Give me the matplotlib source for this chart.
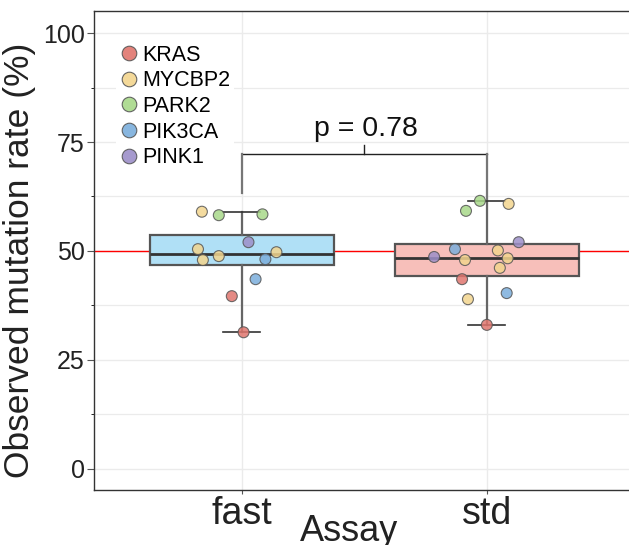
import numpy as np
import matplotlib
matplotlib.use("Agg")
import matplotlib.pyplot as plt
from matplotlib.lines import Line2D

plt.rcParams['font.family'] = ['Liberation Sans', 'DejaVu Sans']

# data
assays = ['fast', 'std']
genes = ['KRAS', 'MYCBP2', 'PARK2', 'PIK3CA', 'PINK1']
gene_colors = ['#E0766E', '#F3D58E', '#A8D98A', '#7BAEDC', '#9D8FC9']
box_colors = ['#B0E0F6', '#F7BFBA']

fast_gene = ['MYCBP2', 'PARK2', 'PARK2', 'PINK1', 'MYCBP2', 'MYCBP2',
             'MYCBP2', 'MYCBP2', 'PIK3CA', 'PIK3CA', 'KRAS', 'KRAS']
fast_rate = [59.0, 58.2, 58.4, 52.0, 50.4, 48.8, 47.9, 49.7, 48.1, 43.5, 39.6, 31.3]
fast_jit = [-0.162, -0.093, 0.085, 0.028, -0.178, -0.093, -0.158, 0.142,
            0.097, 0.057, -0.040, 0.008]

std_gene = ['PARK2', 'MYCBP2', 'PARK2', 'PINK1', 'PIK3CA', 'MYCBP2', 'PINK1',
            'MYCBP2', 'MYCBP2', 'MYCBP2', 'KRAS', 'PIK3CA', 'MYCBP2', 'KRAS']
std_rate = [61.5, 60.8, 59.2, 52.0, 50.4, 50.1, 48.6, 48.3, 47.9, 46.1,
            43.5, 40.3, 38.9, 33.0]
std_jit = [-0.028, 0.089, -0.085, 0.130, -0.130, 0.045, -0.215, 0.085,
           -0.089, 0.053, -0.101, 0.081, -0.077, 0.0]

p_text = 'p = 0.78'
bracket_y = 72.3
bracket_legs = [63.3, 62.0]

fig = plt.figure(figsize=(6.29, 5.45), dpi=100)
ax = fig.add_axes([0.1502, 0.1004, 0.8577, 0.8785])

ax.axhline(50, color='red', lw=1.0, zorder=1)

bp = ax.boxplot([fast_rate, std_rate], positions=[1, 2], widths=0.75,
                whis=(0, 100), patch_artist=True, showfliers=False,
                zorder=2)
for patch, c in zip(bp['boxes'], box_colors):
    patch.set_facecolor(c)
    patch.set_edgecolor('#555555')
    patch.set_linewidth(1.6)
for w in bp['whiskers']:
    w.set_color('#666666')
    w.set_linewidth(1.6)
for cap in bp['caps']:
    cap.set_color('#333333')
    cap.set_linewidth(1.2)
    xd = cap.get_xdata()
    mid = (xd[0] + xd[1]) / 2
    cap.set_xdata([mid - 0.075, mid + 0.075])
for m in bp['medians']:
    m.set_color('#333333')
    m.set_linewidth(2.0)

for pos, gl, rates, jit in [(1, fast_gene, fast_rate, fast_jit),
                            (2, std_gene, std_rate, std_jit)]:
    cols = [gene_colors[genes.index(g)] for g in gl]
    ax.scatter(pos + np.array(jit), rates, s=62, c=cols, edgecolors='#555555',
               linewidths=0.8, alpha=0.85, zorder=4)

ax.set_xlim(0.4, 2.6)
ax.set_ylim(-5, 105)
ax.set_yticks([0, 25, 50, 75, 100])
ax.set_yticks([12.5, 37.5, 62.5, 87.5], minor=True)
ax.set_xticks([1, 2])
ax.set_xticklabels(assays)
ax.grid(True, which='major', color='#EBEBEB', lw=1.0, zorder=0)
ax.grid(True, which='minor', axis='y', color='#EBEBEB', lw=0.9, zorder=0)
ax.set_axisbelow(True)

# significance bracket
ax.plot([1, 2], [bracket_y, bracket_y], color='#222222', lw=1.0, zorder=3)
ax.plot([1.5, 1.5], [bracket_y, bracket_y + 2.0], color='#222222', lw=1.0, zorder=3)
ax.plot([1, 1], [bracket_legs[0], bracket_y], color='#777777', lw=1.6, zorder=3)
ax.plot([2, 2], [bracket_legs[1], bracket_y], color='#777777', lw=1.6, zorder=3)
ax.text(1.505, bracket_y + 4.2, p_text, ha='center', va='baseline',
        fontsize=20.5, color='#111111')

for s in ax.spines.values():
    s.set_color('#333333')
    s.set_linewidth(1.0)

ax.tick_params(axis='y', labelsize=18, length=5, color='#555555',
               labelcolor='#222222', pad=2)
ax.tick_params(axis='x', labelsize=27, length=3, color='#555555',
               labelcolor='#222222', pad=1)
ax.set_ylabel('Observed mutation rate (%)', fontsize=25.5, color='#222222')
ax.yaxis.set_label_coords(-0.108, 0.48, transform=ax.transAxes)
ax.set_xlabel('Assay', fontsize=26, color='#222222')
ax.xaxis.set_label_coords(0.472, -0.050, transform=ax.transAxes)
ax.xaxis.label.set_va('top')

handles = [Line2D([0], [0], marker='o', ls='none', markersize=10.5,
                  markerfacecolor=c, markeredgecolor='#555555',
                  markeredgewidth=0.8, alpha=0.9) for c in gene_colors]
leg = ax.legend(handles, genes, loc='upper left', bbox_to_anchor=(0.04, 0.94),
                fontsize=15.5, frameon=True, handlelength=0.8, handletextpad=0.2,
                labelspacing=0.22, borderpad=0.2, borderaxespad=0)
leg.get_frame().set_facecolor('white')
leg.get_frame().set_edgecolor('none')
leg.get_frame().set_alpha(1.0)

fig.savefig('out.png', dpi=100)
